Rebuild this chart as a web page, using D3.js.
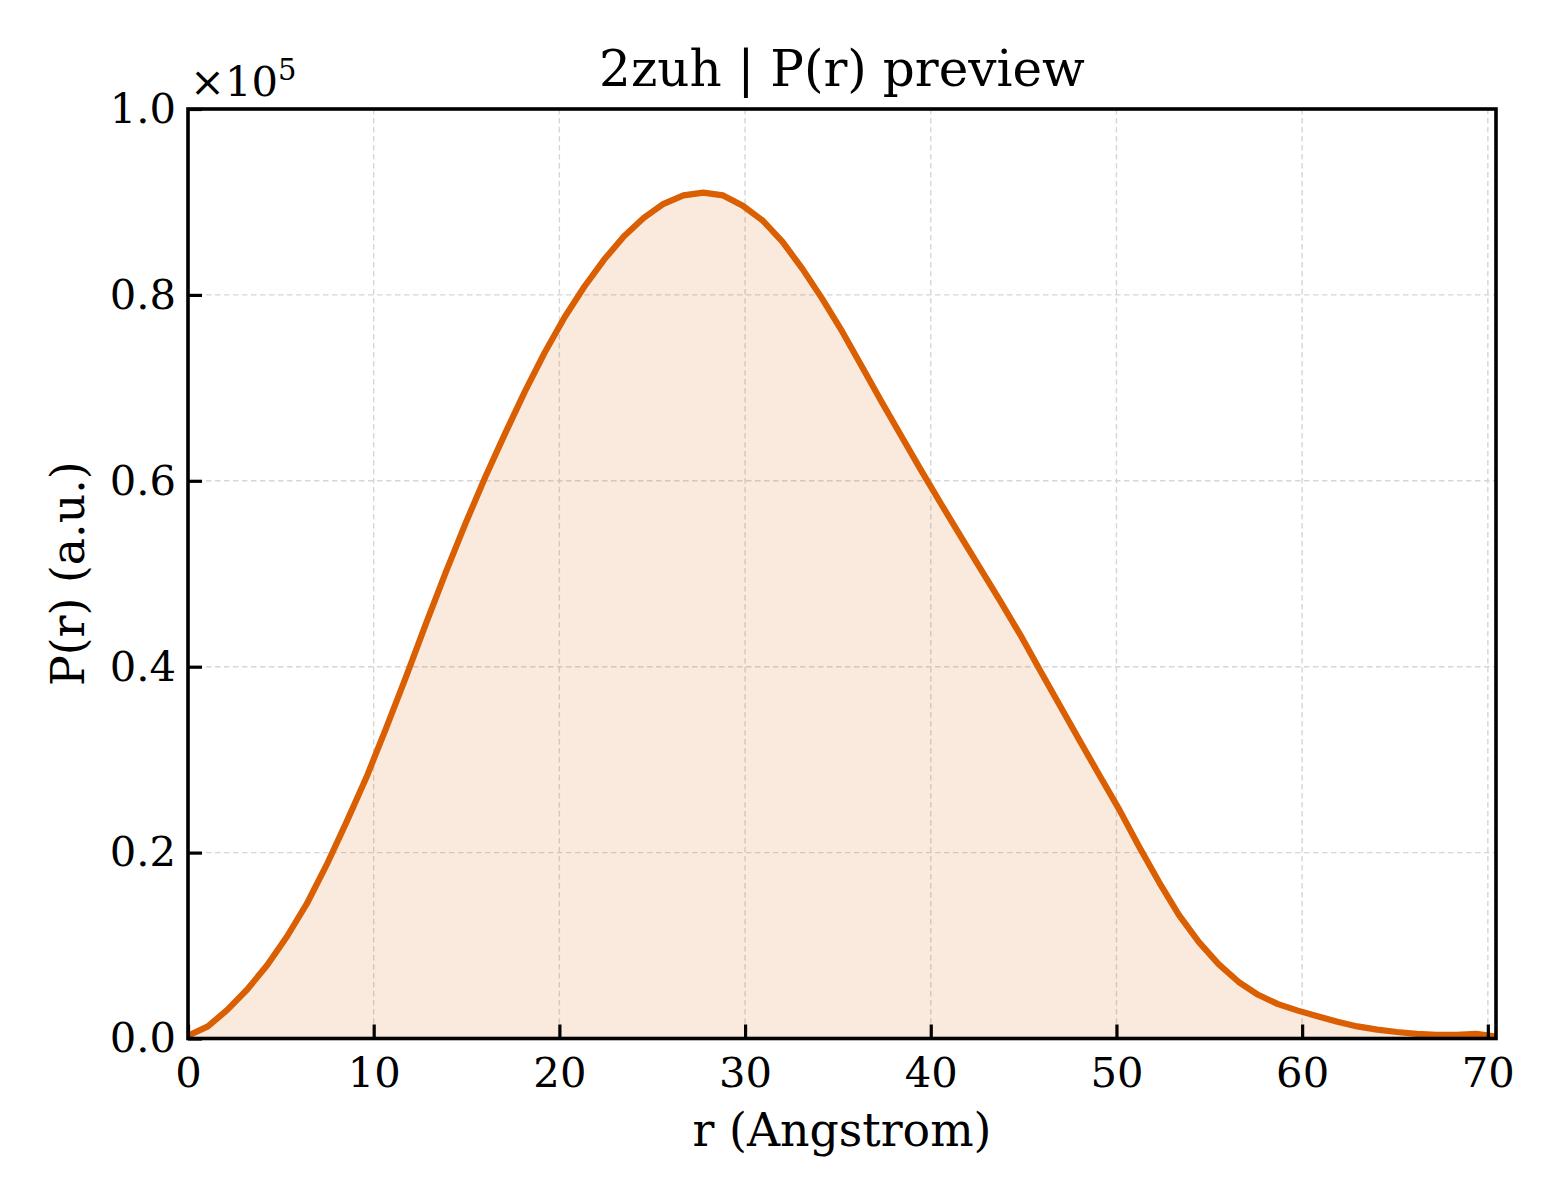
<!DOCTYPE html>
<html>
<head>
<meta charset="utf-8">
<script src="https://cdn.jsdelivr.net/npm/d3@7"></script>
<style>
  html, body { margin: 0; padding: 0; background: #fff; }
  svg { display: block; }
  text { font-family: "DejaVu Serif", serif; fill: #000; }
</style>
</head>
<body>
<svg id="chart" width="1560" height="1200"></svg>
<script>
// ---- data ----
const rValues = [0, 1.07, 2.13, 3.20, 4.27, 5.34, 6.40, 7.47, 8.54, 9.61,
  10.67, 11.74, 12.81, 13.87, 14.94, 16.01, 17.08, 18.14, 19.21, 20.28,
  21.35, 22.41, 23.48, 24.55, 25.61, 26.68, 27.75, 28.82, 29.88, 30.95,
  32.02, 33.09, 34.15, 35.22, 36.29, 37.35, 38.42, 39.49, 40.56, 41.62,
  42.69, 43.76, 44.83, 45.89, 46.96, 48.03, 49.09, 50.16, 51.23, 52.30,
  53.36, 54.43, 55.50, 56.57, 57.63, 58.70, 59.77, 60.83, 61.90, 62.97,
  64.04, 65.10, 66.17, 67.24, 68.31, 69.37, 70.44];
const prValues = [300, 1300, 3100, 5300, 7900, 11000, 14500, 18700, 23300, 28100,
  33400, 38900, 44600, 50100, 55400, 60400, 65100, 69600, 73800, 77600,
  80900, 83800, 86300, 88300, 89800, 90700, 91000, 90700, 89600, 88000,
  85700, 82800, 79600, 76100, 72300, 68500, 64800, 61100, 57500, 54000,
  50500, 47000, 43400, 39600, 35800, 32000, 28300, 24600, 20600, 16800,
  13300, 10400, 8000, 6100, 4700, 3700, 3000, 2400, 1800, 1300,
  950, 700, 500, 400, 400, 500, 200];
const xTicks = [0, 10, 20, 30, 40, 50, 60, 70];
const yTicks = [0, 20000, 40000, 60000, 80000, 100000];
const titleText = "2zuh | P(r) preview";
const xLabel = "r (Angstrom)";
const yLabel = "P(r) (a.u.)";

// ---- layout ----
const L = 188, R = 1496, T = 109, B = 1038.5;
const lineColor = "#d95f02";
const tickFont = 41.7, labelFont = 45.8, titleFont = 50;

const svg = d3.select("#chart");
const x = d3.scaleLinear().domain([0, d3.max(rValues)]).range([L, R]);
const y = d3.scaleLinear().domain([0, 100000]).range([B, T]);
const data = rValues.map((r, i) => ({ r, p: prValues[i] }));

// grid
const grid = svg.append("g");
grid.selectAll(".gx").data(xTicks).enter().append("line")
  .attr("x1", d => x(d)).attr("x2", d => x(d))
  .attr("y1", T).attr("y2", B)
  .attr("stroke", "#d6d6d6").attr("stroke-width", 1.4)
  .attr("stroke-dasharray", "5.5,3.5");
grid.selectAll(".gy").data(yTicks).enter().append("line")
  .attr("x1", L).attr("x2", R)
  .attr("y1", d => y(d)).attr("y2", d => y(d))
  .attr("stroke", "#d6d6d6").attr("stroke-width", 1.4)
  .attr("stroke-dasharray", "5.5,3.5");

// area + line
svg.append("path").datum(data)
  .attr("d", d3.area().x(d => x(d.r)).y0(y(0)).y1(d => y(d.p)))
  .attr("fill", lineColor).attr("fill-opacity", 0.13);
svg.append("path").datum(data)
  .attr("d", d3.line().x(d => x(d.r)).y(d => y(d.p)))
  .attr("fill", "none").attr("stroke", lineColor)
  .attr("stroke-width", 6.2).attr("stroke-linejoin", "round").attr("stroke-linecap", "butt");

// axes (ticks inward)
const xAxis = d3.axisBottom(x).tickValues(xTicks).tickSizeInner(-14).tickSizeOuter(0)
  .tickPadding(19).tickFormat(d3.format("d"));
const gx = svg.append("g").attr("transform", `translate(0,${B})`).call(xAxis);
gx.select(".domain").remove();
gx.selectAll(".tick line").attr("stroke", "#000").attr("stroke-width", 3.2);
gx.selectAll(".tick text").attr("font-size", tickFont).attr("font-family", "DejaVu Serif").attr("fill", "#000");

const yAxis = d3.axisLeft(y).tickValues(yTicks).tickSizeInner(-14).tickSizeOuter(0)
  .tickPadding(12).tickFormat(d => (d / 100000).toFixed(1));
const gy = svg.append("g").attr("transform", `translate(${L},0)`).call(yAxis);
gy.select(".domain").remove();
gy.selectAll(".tick line").attr("stroke", "#000").attr("stroke-width", 3.2);
gy.selectAll(".tick text").attr("font-size", tickFont).attr("font-family", "DejaVu Serif").attr("fill", "#000");

// spines
svg.append("rect").attr("x", L).attr("y", T).attr("width", R - L).attr("height", B - T)
  .attr("fill", "none").attr("stroke", "#000").attr("stroke-width", 3.6);

// offset text
const off = svg.append("text").attr("x", 190).attr("y", 96).attr("font-size", tickFont);
off.append("tspan").text("×10");
off.append("tspan").attr("font-size", 29).attr("dy", -16).text("5");

// title & labels
svg.append("text").attr("x", (L + R) / 2).attr("y", 86).attr("text-anchor", "middle")
  .attr("font-size", titleFont).text(titleText);
svg.append("text").attr("x", (L + R) / 2).attr("y", 1146).attr("text-anchor", "middle")
  .attr("font-size", labelFont).text(xLabel);
svg.append("text").attr("transform", `translate(84,${(T + B) / 2}) rotate(-90)`)
  .attr("text-anchor", "middle").attr("font-size", labelFont).text(yLabel);
</script>
</body>
</html>
